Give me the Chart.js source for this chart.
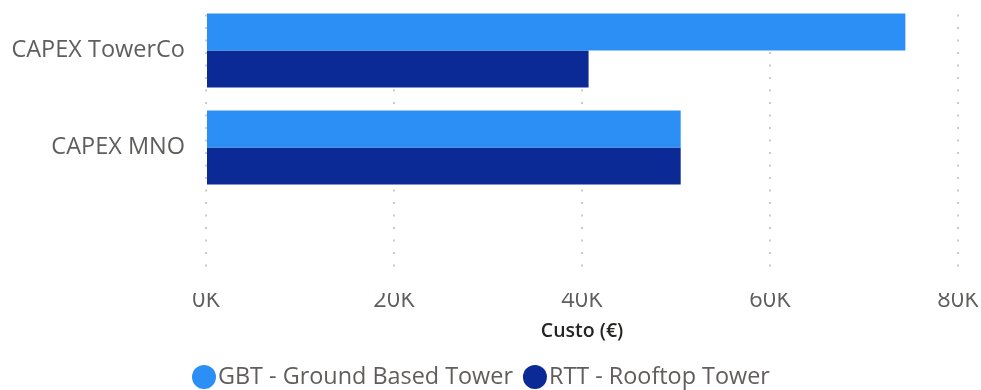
<!DOCTYPE html>
<html>
<head>
<meta charset="utf-8">
<script src="https://cdn.jsdelivr.net/npm/chart.js@4"></script>
<style>
  html, body { margin: 0; padding: 0; background: #fff; }
  #wrap { width: 981px; height: 390px; }
</style>
</head>
<body>
<div id="wrap"><canvas id="chart" width="981" height="390"></canvas></div>
<script>
const categories = ["CAPEX TowerCo", "CAPEX MNO"];
const gbtValues = [74400, 50500];
const rttValues = [40700, 50500];
const xTicks = [0, 20000, 40000, 60000, 80000];

const FONT = "'Open Sans', sans-serif";
const GREY = "#605E5C";

// power bi style legend: dot sits right next to the text
const dotLegend = {
  id: "dotLegend",
  afterDraw(chart) {
    const ctx = chart.ctx;
    ctx.save();
    ctx.font = `23.4px ${FONT}`;
    ctx.textBaseline = "middle";
    const r = 12, y = 377;
    let x = 192;
    chart.data.datasets.forEach((ds) => {
      ctx.fillStyle = ds.backgroundColor;
      ctx.beginPath();
      ctx.arc(x + r, y, r, 0, Math.PI * 2);
      ctx.fill();
      x += 2 * r + 2;
      ctx.fillStyle = GREY;
      ctx.fillText(ds.label, x, y);
      x += ctx.measureText(ds.label).width + 10;
    });
    ctx.restore();
  }
};

// the dotted grid only runs between y=11 and y=276, keep the title area open
const gridClip = {
  id: "gridClip",
  beforeDraw(chart) {
    const ctx = chart.ctx;
    ctx.save();
    ctx.beginPath();
    ctx.rect(0, 11, chart.width, 265);
    ctx.rect(0, 312, chart.width, chart.height - 312);
    ctx.clip();
  },
  beforeDatasetsDraw(chart) {
    chart.ctx.restore();
  }
};

const ctx = document.getElementById("chart").getContext("2d");

new Chart(ctx, {
  type: "bar",
  data: {
    // empty third slot: the bars sit at the top like in the original report
    labels: [...categories, ""],
    datasets: [
      {
        label: "GBT - Ground Based Tower",
        data: gbtValues,
        backgroundColor: "#2B8FF6",
        categoryPercentage: 0.763,
        barPercentage: 1.0
      },
      {
        label: "RTT - Rooftop Tower",
        data: rttValues,
        backgroundColor: "#0B2A95",
        categoryPercentage: 0.763,
        barPercentage: 1.0
      }
    ]
  },
  options: {
    indexAxis: "y",
    responsive: false,
    animation: false,
    layout: { padding: { top: 2, right: 0, left: 0, bottom: 30 } },
    plugins: {
      tooltip: { enabled: false },
      legend: { display: false }
    },
    scales: {
      x: {
        min: 0,
        max: 80000,
        afterBuildTicks: (scale) => { scale.ticks = xTicks.map(v => ({ value: v })); },
        afterFit: (scale) => {
          scale.height = 67;
          scale.paddingLeft = 0;
          scale.paddingRight = 23;
        },
        border: { display: false, dash: [2, 10.5] },
        grid: {
          color: "#CBCBCB",
          lineWidth: 2,
          drawTicks: false
        },
        ticks: {
          z: 1,
          padding: -7,
          color: GREY,
          font: { family: FONT, size: 23.5 },
          callback: (v) => (v / 1000) + "K"
        },
        title: {
          display: true,
          text: "Custo (€)",
          color: "#252423",
          font: { family: FONT, size: 19.5, weight: "600" },
          padding: { top: 0, bottom: 17 }
        }
      },
      y: {
        afterFit: (scale) => {
          scale.width = 206;
          scale.paddingTop = 0;
          scale.paddingBottom = 0;
        },
        border: { display: false },
        grid: { display: false, drawTicks: false },
        ticks: {
          padding: 21,
          color: GREY,
          font: { family: FONT, size: 23.5 }
        }
      }
    }
  },
  plugins: [gridClip, dotLegend]
});
</script>
</body>
</html>
